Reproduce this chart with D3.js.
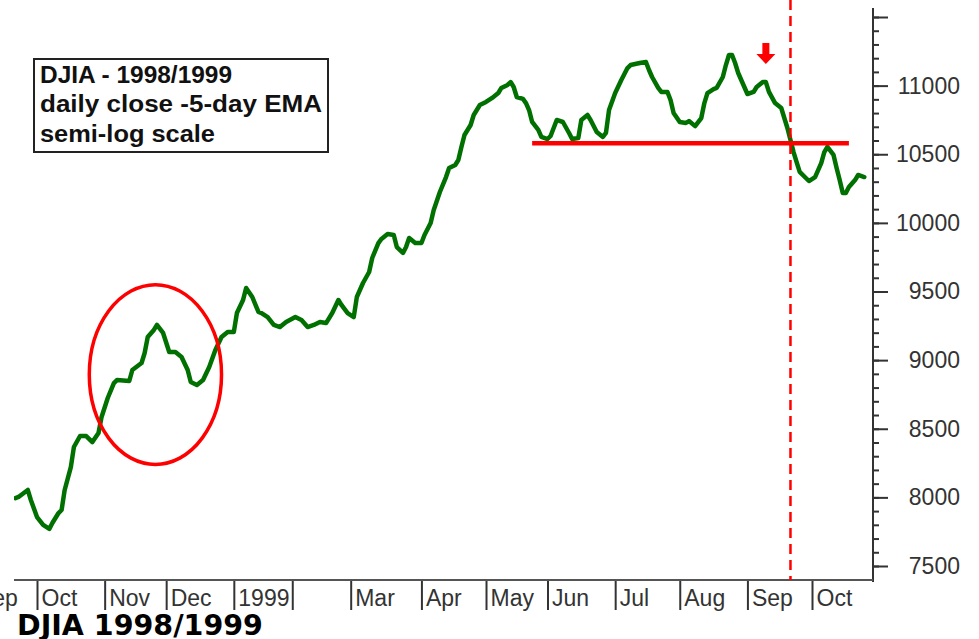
<!DOCTYPE html>
<html>
<head>
<meta charset="utf-8">
<script src="https://cdn.jsdelivr.net/npm/d3@7"></script>
<style>
  body { margin: 0; background: #fff; }
  svg { display: block; }
</style>
</head>
<body>
<svg width="979" height="639"></svg>
<script>
/* month labels along the bottom, and how many trading days each month has */
var monthNames = ["Sep", "Oct", "Nov", "Dec", "1999", "", "Mar", "Apr", "May", "Jun", "Jul", "Aug", "Sep", "Oct"];
var monthDays = [21, 22, 20, 22, 19, 19, 23, 21, 20, 22, 21, 22, 21, 21];
var firstMonthStart = -21; /* trading day of Sep 1 1998, counted from Oct 1 1998 */

/* y axis ticks */
var majorTicks = [7500, 8000, 8500, 9000, 9500, 10000, 10500, 11000, 11500];
var labelTicks = [7500, 8000, 8500, 9000, 9500, 10000, 10500, 11000];

/* 5-day EMA of the daily close: trading day (0 = Oct 1 1998), value */
var emaDay = [-7, -6, -3, -2, 0, 2, 4, 5, 7, 8, 9, 11, 12, 14, 16, 18, 20, 21, 23, 25,
  26, 30, 31, 34, 35, 36, 38, 39, 41, 43, 45, 47, 49, 50, 52, 54, 56, 58, 60, 62,
  64, 65, 67, 68, 70, 72, 73, 75, 77, 79, 81, 84, 86, 88, 90, 92, 94, 96, 98, 99,
  101, 103, 104, 106, 108, 109, 111, 112, 114, 116, 117, 119, 120, 121, 123, 125, 126, 128, 129, 131,
  133, 134, 136, 137, 138, 139, 141, 142, 144, 146, 148, 150, 151, 153, 154, 155, 156, 158, 159, 160,
  161, 163, 164, 166, 167, 169, 171, 173, 174, 176, 177, 179, 180, 182, 184, 185, 186, 188, 190, 192,
  193, 196, 198, 199, 200, 202, 203, 205, 206, 207, 209, 211, 212, 214, 216, 217, 218, 220, 221, 223,
  224, 225, 226, 227, 228, 230, 231, 233, 234, 236, 237, 238, 240, 242, 243, 244, 245, 246, 247, 248,
  250, 251, 253, 255, 256, 257, 259, 260, 261, 262, 263, 264, 266, 267, 269];
var emaValue = [7995, 8003, 8054, 7981, 7857, 7799, 7770, 7813, 7886, 7908, 8054, 8221, 8367, 8447, 8447, 8403, 8469, 8586, 8724, 8833,
  8855, 8848, 8928, 8979, 9052, 9168, 9220, 9256, 9198, 9059, 9059, 9023, 8928, 8841, 8819, 8855, 8950, 9074, 9168, 9205,
  9205, 9343, 9438, 9526, 9460, 9351, 9343, 9314, 9256, 9241, 9278, 9314, 9292, 9241, 9256, 9278, 9270, 9343, 9438, 9402,
  9343, 9314, 9460, 9562, 9642, 9744, 9853, 9883, 9919, 9912, 9824, 9781, 9824, 9890, 9853, 9853, 9912, 9999, 10094, 10225,
  10334, 10400, 10422, 10458, 10553, 10640, 10713, 10786, 10859, 10881, 10910, 10946, 10983, 11005, 11026, 10990, 10917, 10903, 10873, 10822,
  10735, 10677, 10626, 10611, 10633, 10750, 10735, 10655, 10611, 10618, 10750, 10786, 10750, 10662, 10626, 10655, 10822, 10946, 11041, 11128,
  11150, 11165, 11172, 11114, 11063, 10983, 10954, 10954, 10895, 10801, 10735, 10728, 10742, 10705, 10764, 10873, 10946, 10975, 10983, 11063,
  11150, 11223, 11223, 11165, 11092, 10990, 10939, 10954, 10990, 11026, 11026, 10954, 10873, 10837, 10764, 10691, 10604, 10516, 10443, 10371,
  10327, 10305, 10334, 10436, 10516, 10553, 10495, 10400, 10312, 10218, 10218, 10261, 10312, 10349, 10334];

/* annotations */
var supportLevel = 10580, supportFrom = 161, supportTo = 264;
var breakDay = 245;
var arrowDay = 237, arrowValue = 11157;
var circleDays = [17, 60], circleValues = [8240, 9550];

var svg = d3.select("svg"),
    plotLeft = 14, plotRight = 873, plotTop = 8, plotBottom = 580;

var x = d3.scaleLinear().domain([0, 252]).range([37, 812]);
var y = d3.scaleLinear().domain([7500, 11500]).range([566, 17]);

var data = emaDay.map(function(d, i) { return {day: d, value: emaValue[i]}; });

svg.append("clipPath").attr("id", "plot")
  .append("rect")
    .attr("x", plotLeft).attr("y", 0)
    .attr("width", plotRight - plotLeft).attr("height", plotBottom);

/* legend box */
var legend = svg.append("g");
legend.append("rect")
    .attr("x", 34).attr("y", 59).attr("width", 294).attr("height", 93)
    .attr("fill", "#fff").attr("stroke", "#222").attr("stroke-width", 2);
var legendLines = [["DJIA - 1998/1999", 83, 192], ["daily close -5-day EMA", 112, 282], ["semi-log scale", 142, 175]];
legend.selectAll("text").data(legendLines).enter().append("text")
    .attr("x", 40)
    .attr("y", function(d) { return d[1]; })
    .attr("textLength", function(d) { return d[2]; })
    .attr("lengthAdjust", "spacingAndGlyphs")
    .attr("font-family", "'Liberation Sans', Arial, sans-serif")
    .attr("font-weight", "bold")
    .attr("font-size", 23)
    .attr("fill", "#111")
    .text(function(d) { return d[0]; });

/* right axis: minor ticks every 100, major every 500 */
var axisFont = "'Liberation Sans', Arial, sans-serif";
svg.append("g")
    .attr("transform", "translate(" + plotRight + ",0)")
    .call(d3.axisRight(y).tickValues(d3.range(7500, 11501, 100)).tickSize(6).tickFormat(""))
    .call(function(g) { g.select(".domain").remove(); })
    .selectAll("line").attr("stroke", "#333").attr("stroke-width", 2);

var yAxis = svg.append("g")
    .attr("transform", "translate(" + plotRight + ",0)")
    .call(d3.axisRight(y).tickValues(majorTicks).tickSize(15)
      .tickFormat(function(d) { return labelTicks.indexOf(d) >= 0 ? d : ""; }));
yAxis.select(".domain").remove();
yAxis.selectAll("line").attr("stroke", "#333").attr("stroke-width", 2);
yAxis.selectAll("text")
    .attr("x", 87)
    .attr("text-anchor", "end")
    .attr("font-family", axisFont)
    .attr("font-size", 23)
    .attr("fill", "#333");

svg.append("line")
    .attr("x1", plotRight).attr("x2", plotRight)
    .attr("y1", plotTop).attr("y2", plotBottom + 2)
    .attr("stroke", "#333").attr("stroke-width", 2);

/* bottom axis: month separators with the label right of each */
var monthStarts = [];
monthDays.reduce(function(s, n) { monthStarts.push(s); return s + n; }, firstMonthStart);

var xAxis = svg.append("g")
    .attr("transform", "translate(0," + plotBottom + ")")
    .call(d3.axisBottom(x)
      .tickValues(monthStarts.filter(function(d) { return x(d) <= plotRight - 10; }))
      .tickSize(30)
      .tickFormat(function(d) { return monthNames[monthStarts.indexOf(d)]; }));
xAxis.select(".domain").remove();
xAxis.selectAll("line").attr("stroke", "#333").attr("stroke-width", 2);
xAxis.selectAll("text")
    .attr("x", 4).attr("y", 26).attr("dy", null)
    .attr("text-anchor", "start")
    .attr("font-family", axisFont)
    .attr("font-size", 23)
    .attr("fill", "#333");

svg.append("line")
    .attr("x1", plotLeft).attr("x2", plotRight)
    .attr("y1", plotBottom).attr("y2", plotBottom)
    .attr("stroke", "#555").attr("stroke-width", 2);

/* the EMA line */
var line = d3.line()
    .x(function(d) { return x(d.day); })
    .y(function(d) { return y(d.value); });

var plot = svg.append("g").attr("clip-path", "url(#plot)");

plot.append("path")
    .datum(data)
    .attr("fill", "none")
    .attr("stroke", "#007000")
    .attr("stroke-width", 4.5)
    .attr("stroke-linejoin", "round")
    .attr("stroke-linecap", "round")
    .attr("d", line);

/* red annotations */
plot.append("ellipse")
    .attr("cx", (x(circleDays[0]) + x(circleDays[1])) / 2)
    .attr("cy", (y(circleValues[0]) + y(circleValues[1])) / 2)
    .attr("rx", (x(circleDays[1]) - x(circleDays[0])) / 2)
    .attr("ry", (y(circleValues[0]) - y(circleValues[1])) / 2)
    .attr("fill", "none")
    .attr("stroke", "#ff0000")
    .attr("stroke-width", 3.5);

plot.append("line")
    .attr("x1", x(supportFrom)).attr("x2", x(supportTo))
    .attr("y1", y(supportLevel)).attr("y2", y(supportLevel))
    .attr("stroke", "#ff0000")
    .attr("stroke-width", 4.5);

plot.append("line")
    .attr("x1", x(breakDay)).attr("x2", x(breakDay))
    .attr("y1", 0).attr("y2", plotBottom)
    .attr("stroke", "#ff0000")
    .attr("stroke-width", 2.5)
    .attr("stroke-dasharray", "10,6");

var ax = x(arrowDay), ay = y(arrowValue);
plot.append("path")
    .attr("d", "M" + (ax - 3.5) + "," + (ay - 21) + "H" + (ax + 3.5) + "V" + (ay - 10) +
      "H" + (ax + 9.5) + "L" + ax + "," + ay + "L" + (ax - 9.5) + "," + (ay - 10) +
      "H" + (ax - 3.5) + "Z")
    .attr("fill", "#ff0000");

/* caption under the chart */
svg.append("text")
    .attr("x", 17)
    .attr("y", 635)
    .attr("font-family", "'DejaVu Sans', Verdana, sans-serif")
    .attr("font-weight", "bold")
    .attr("font-size", 28.5)
    .attr("fill", "#000")
    .text("DJIA 1998/1999");
</script>
</body>
</html>
